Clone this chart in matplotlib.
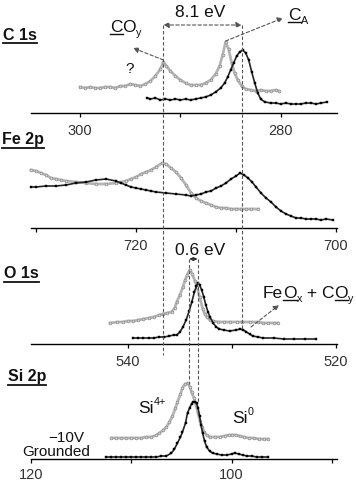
import matplotlib
matplotlib.use("Agg")
import matplotlib.pyplot as plt
from matplotlib.lines import Line2D
from matplotlib.transforms import blended_transform_factory

plt.rcParams['font.family'] = ['Liberation Sans', 'DejaVu Sans']

W, H = 356, 482          # output size in px (dpi 100)

# ---- spectra: binding energy (eV) vs intensity (a.u.) ----
c1s_neg_e = [300.0, 299.5, 299.0, 298.5, 298.0, 297.5, 297.0, 296.5, 296.0, 295.5,
             295.0, 294.5, 294.0, 293.5, 293.0, 292.5, 292.0, 291.7, 291.4, 291.0,
             290.5, 290.0, 289.5, 289.0, 288.5, 288.0, 287.5, 287.0, 286.5, 286.1,
             285.8, 285.5, 285.2, 284.9, 284.6, 284.3, 283.9, 283.5, 283.0, 282.5,
             282.0, 281.5, 281.0, 280.5, 280.2]
c1s_neg_i = [26, 25, 26, 25, 25, 26, 26, 25, 27, 27,
             29, 28, 27, 29, 32, 37, 44, 51, 47, 42,
             37, 33, 30, 28, 28, 28, 30, 33, 39, 47,
             58, 71, 64, 50, 40, 33, 27, 24, 23, 22,
             23, 22, 22, 23, 22]
c1s_gnd_e = [293.3, 293.0, 292.5, 292.0, 291.5, 291.0, 290.5, 290.0, 289.5, 289.0,
             288.5, 288.0, 287.5, 287.0, 286.5, 286.0, 285.6, 285.3, 285.0, 284.7,
             284.4, 284.1, 283.8, 283.5, 283.2, 282.9, 282.6, 282.3, 282.0, 281.6,
             281.0, 280.5, 280.0, 279.5, 279.0, 278.5, 278.0, 277.5, 277.0, 276.5,
             276.0, 275.4]
c1s_gnd_i = [15, 14, 15, 13, 14, 13, 14, 13, 14, 13,
             14, 15, 16, 18, 21, 25, 30, 36, 43, 50,
             57, 61, 63, 60, 53, 41, 30, 20, 14, 11,
             10, 10, 9, 10, 9, 9, 9, 10, 10, 9,
             10, 11]

fe2p_neg_e = [730.5, 730.0, 729.5, 729.0, 728.5, 728.0, 727.5, 727.0, 726.0, 725.0,
              724.0, 723.0, 722.0, 721.0, 720.5, 720.0, 719.5, 719.0, 718.5, 718.0,
              717.4, 717.0, 716.5, 716.0, 715.5, 715.0, 714.5, 714.0, 713.5, 713.0,
              712.5, 712.0, 711.5, 711.0, 710.5, 710.0, 709.5, 709.0, 708.5, 707.8]
fe2p_neg_i = [58, 57, 55, 53, 50, 49, 48, 47, 46, 45,
              44, 44, 45, 47, 49, 51, 54, 56, 58, 61,
              65, 64, 60, 56, 50, 43, 35, 30, 27, 25,
              23, 21, 20, 20, 19, 19, 19, 19, 19, 19]
fe2p_gnd_e = [730.5, 730.0, 729.0, 728.0, 727.0, 726.0, 725.0, 724.0, 723.0, 722.0,
              721.5, 721.0, 720.5, 720.0, 719.5, 719.0, 718.5, 718.0, 717.0, 716.0,
              715.0, 714.5, 714.0, 713.5, 713.0, 712.5, 712.0, 711.5, 711.0, 710.5,
              710.0, 709.6, 709.2, 708.8, 708.4, 708.0, 707.5, 707.0, 706.5, 706.0,
              705.5, 705.0, 704.5, 704.0, 703.5, 703.0, 702.5, 702.0, 701.5, 701.0,
              700.3]
fe2p_gnd_i = [41, 41, 42, 42, 43, 45, 46, 48, 49, 47,
              45, 43, 41, 40, 39, 38, 37, 36, 35, 34,
              33, 32, 33, 34, 36, 37, 40, 42, 45, 49,
              52, 55, 53, 50, 46, 41, 35, 30, 26, 21,
              17, 14, 12, 10, 10, 9, 9, 9, 8, 9,
              8]

o1s_neg_e = [541.7, 541.0, 540.5, 540.0, 539.5, 539.0, 538.5, 538.0, 537.5, 537.0,
             536.6, 536.2, 535.8, 535.5, 535.3, 535.0, 534.7, 534.5, 534.3, 534.05,
             533.8, 533.55, 533.35, 533.1, 532.8, 532.6, 532.4, 532.1, 531.8, 531.3,
             530.8, 530.2, 529.5, 529.0, 528.3, 527.5, 527.0, 526.5, 526.0, 525.6]
o1s_neg_i = [21, 22, 22, 23, 23, 24, 25, 26, 27, 29,
             30, 31, 32, 36, 42, 49, 57, 64, 69, 74,
             70, 63, 57, 47, 35, 30, 27, 24, 23, 22,
             22, 22, 22, 22, 22, 22, 21, 21, 21, 21]
o1s_gnd_e = [539.5, 539.0, 538.5, 538.0, 537.5, 537.0, 536.5, 536.0, 535.6, 535.3,
             535.0, 534.7, 534.4, 534.1, 533.85, 533.6, 533.4, 533.25, 533.1, 532.9,
             532.7, 532.5, 532.3, 532.1, 531.8, 531.5, 531.2, 530.8, 530.2, 529.6,
             529.2, 528.9, 528.6, 528.3, 528.0, 527.5, 527.0, 526.0, 525.0, 524.0,
             523.0, 521.9]
o1s_gnd_i = [6, 6, 6, 6, 6, 7, 7, 8, 9, 9,
             12, 17, 24, 33, 42, 52, 58, 61, 59, 54,
             47, 39, 32, 27, 21, 17, 15, 14, 13, 14,
             15, 14, 12, 10, 8, 7, 6, 6, 5, 5,
             5, 5]

si2p_neg_e = [112.0, 111.5, 111.0, 110.5, 110.0, 109.5, 109.0, 108.5, 108.0, 107.5,
              107.2, 106.8, 106.5, 106.2, 105.9, 105.6, 105.4, 105.1, 104.9, 104.65,
              104.4, 104.15, 104.0, 103.75, 103.55, 103.35, 103.15, 102.95, 102.75, 102.5,
              102.2, 101.7, 101.2, 100.7, 100.3, 100.0, 99.6, 99.2, 98.8, 98.3,
              97.8, 97.3, 96.8, 96.4]
si2p_neg_i = [21, 21, 21, 21, 21, 21, 21, 22, 22, 24,
              26, 29, 32, 37, 43, 51, 57, 65, 71, 75,
              76, 72, 67, 61, 54, 46, 38, 32, 27, 24,
              22, 22, 22, 23, 24, 24, 24, 23, 22, 21,
              21, 20, 20, 20]
si2p_gnd_e = [112.5, 112.0, 111.5, 111.0, 110.5, 110.0, 109.5, 109.0, 108.5, 108.0,
              107.5, 107.0, 106.5, 106.0, 105.7, 105.4, 105.1, 104.9, 104.6, 104.4,
              104.2, 104.0, 103.85, 103.7, 103.5, 103.35, 103.2, 103.05, 102.9, 102.7,
              102.5, 102.2, 101.9, 101.5, 101.0, 100.5, 100.0, 99.7, 99.3, 98.9,
              98.5, 98.0, 97.5, 97.0, 96.4]
si2p_gnd_i = [2, 2, 2, 2, 2, 2, 2, 2, 2, 2,
              2, 3, 3, 6, 10, 16, 22, 27, 36, 46,
              51, 55, 57, 57, 56, 51, 43, 34, 26, 18,
              12, 8, 6, 5, 4, 4, 5, 6, 5, 4,
              3, 3, 2, 2, 2]

# peak positions used for the guide lines
co_peak_c1s = 291.7      # CO_y, -10 V
ca_peak_c1s = 283.9      # C_A, grounded
o_peak_neg = 534.1
o_peak_gnd = 533.3

fig = plt.figure(figsize=(W / 100, H / 100), dpi=100)


def fx(x):
    return x / W


def fy(y):
    return 1 - y / H


def panel(top, bottom, xlim, ticks, labels, pad=5):
    ax = fig.add_axes([fx(31), fy(bottom), (337 - 31) / W, (bottom - top) / H])
    ax.set_facecolor("none")
    for s in ("top", "left", "right"):
        ax.spines[s].set_visible(False)
    ax.spines["bottom"].set_linewidth(1.0)
    ax.set_xlim(*xlim)
    ax.set_ylim(0, bottom - top)
    ax.set_yticks([])
    ax.set_xticks(ticks)
    ax.set_xticklabels(labels)
    ax.tick_params(axis="x", direction="out", length=3, width=0.9, pad=pad,
                   labelsize=10.5, labelcolor="#333333")
    return ax


def spectra(ax, e_neg, i_neg, e_gnd, i_gnd):
    ax.plot(e_neg, i_neg, color="#b4b4b4", lw=2.0, marker="o", ms=2.0,
            mfc="#d4d4d4", mec="#8c8c8c", mew=0.5, clip_on=False)
    ax.plot(e_gnd, i_gnd, color="#252525", lw=1.2, marker="s", ms=1.6,
            mfc="#000000", mec="#000000", mew=0.3, clip_on=False)


ax_c = panel(0, 113, (304.9, 274.4), [300, 290, 280], ["300", "", "280"])
ax_fe = panel(128, 228, (730.5, 699.9), [730, 720, 710, 700], ["", "720", "", "700"])
ax_o = panel(244, 344, (549.3, 519.9), [540, 530, 520], ["540", "", "520"])
ax_si = panel(359, 459, (120.0, 89.5), [120, 110, 100, 90], ["120", "", "100", ""], pad=3.5)

spectra(ax_c, c1s_neg_e, c1s_neg_i, c1s_gnd_e, c1s_gnd_i)
spectra(ax_fe, fe2p_neg_e, fe2p_neg_i, fe2p_gnd_e, fe2p_gnd_i)
spectra(ax_o, o1s_neg_e, o1s_neg_i, o1s_gnd_e, o1s_gnd_i)
spectra(ax_si, si2p_neg_e, si2p_neg_i, si2p_gnd_e, si2p_gnd_i)

# ---- dashed guide lines running across panels ----
dash = dict(color="#555555", lw=0.8, linestyle=(0, (3, 2)))
tc = blended_transform_factory(ax_c.transData, fig.transFigure)
to = blended_transform_factory(ax_o.transData, fig.transFigure)
fig.add_artist(Line2D([co_peak_c1s] * 2, [fy(25), fy(355)], transform=tc, **dash))
fig.add_artist(Line2D([ca_peak_c1s] * 2, [fy(25), fy(330)], transform=tc, **dash))
fig.add_artist(Line2D([o_peak_neg] * 2, [fy(259), fy(384)], transform=to, **dash))
fig.add_artist(Line2D([o_peak_gnd] * 2, [fy(259), fy(402)], transform=to, **dash))

arrow = dict(color="#555555", lw=0.8, linestyle=(0, (3, 2)), shrinkA=0, shrinkB=0)
fig.add_artist(plt.Annotation(
    "", xy=(ca_peak_c1s, fy(25)), xycoords=tc, xytext=(co_peak_c1s, fy(25)), textcoords=tc,
    arrowprops=dict(arrowstyle="<|-|>", mutation_scale=8, **arrow)))
fig.add_artist(plt.Annotation(
    "", xy=(o_peak_gnd, fy(259)), xycoords=to, xytext=(o_peak_neg, fy(259)), textcoords=to,
    arrowprops=dict(arrowstyle="<|-|>", mutation_scale=5, color="#333333", lw=0.8,
                    shrinkA=0, shrinkB=0)))

# label pointers
ax_c.annotate("", xy=(fx(133), fy(48)), xycoords="figure fraction",
              xytext=(co_peak_c1s, 53), textcoords="data",
              arrowprops=dict(arrowstyle="-|>", mutation_scale=8, **arrow))
ax_c.annotate("", xy=(fx(283), fy(18)), xycoords="figure fraction",
              xytext=(285.5, 72), textcoords="data",
              arrowprops=dict(arrowstyle="-|>", mutation_scale=8, **arrow))
fig.add_artist(plt.Annotation(
    "", xy=(fx(279), fy(305)), xycoords="figure fraction",
    xytext=(fx(251), fy(327)), textcoords="figure fraction",
    arrowprops=dict(arrowstyle="-|>", mutation_scale=8, **arrow)))


# ---- text with manual underline / sub- and superscripts ----
def rich(x, y, pieces, size, bold=False, color="#111111", ul_off=2.0, ul_lw=1.0):
    """pieces: (text, underline, shift px); baseline at (x, y) px from the top-left."""
    r = fig.canvas.get_renderer()
    cur = x
    for s, ul, shift in pieces:
        fs = size if shift == 0 else size * 0.62
        t = fig.text(fx(cur), fy(y + shift), s, fontsize=fs, ha="left", va="baseline",
                     color=color, fontweight="bold" if bold else "normal")
        bb = t.get_window_extent(r)
        if ul:
            yy = fy(y + ul_off)
            fig.add_artist(Line2D([bb.x0 / W, bb.x1 / W], [yy, yy],
                                  transform=fig.transFigure, color=color, lw=ul_lw))
        cur = bb.x1
    return cur


rich(3, 40, [("C 1s", True, 0)], 11.5, bold=True, ul_off=3, ul_lw=1.3)
rich(2, 144, [("Fe 2p", True, 0)], 11.5, bold=True, ul_off=4, ul_lw=1.3)
rich(4, 278, [("O 1s", True, 0)], 11.5, bold=True, ul_off=4, ul_lw=1.3)
rich(8, 381, [("Si 2p", True, 0)], 11.5, bold=True, ul_off=4, ul_lw=1.3)

rich(175, 17, [("8.1 eV", False, 0)], 12.5)
rich(175, 255, [("0.6 eV", False, 0)], 12.5)
rich(125, 73, [("?", False, 0)], 11)
rich(110, 32, [("C", True, 0), ("O", False, 0), ("y", False, 4)], 12.5)
rich(288, 20, [("C", True, 0), ("A", False, 4)], 12.5)
rich(263, 298, [("Fe", False, 0), ("O", True, 0), ("x", False, 4),
                (" + C", False, 0), ("O", True, 0), ("y", False, 4)], 12.5)
rich(138, 413, [("Si", False, 0), ("4+", False, -8)], 12.5)
rich(232, 423, [("Si", False, 0), ("0", False, -8)], 12.5)
rich(48, 442, [("\u221210V", False, 0)], 11)
rich(22, 456, [("Grounded", False, 0)], 11)

fig.savefig("out.png", dpi=100)
